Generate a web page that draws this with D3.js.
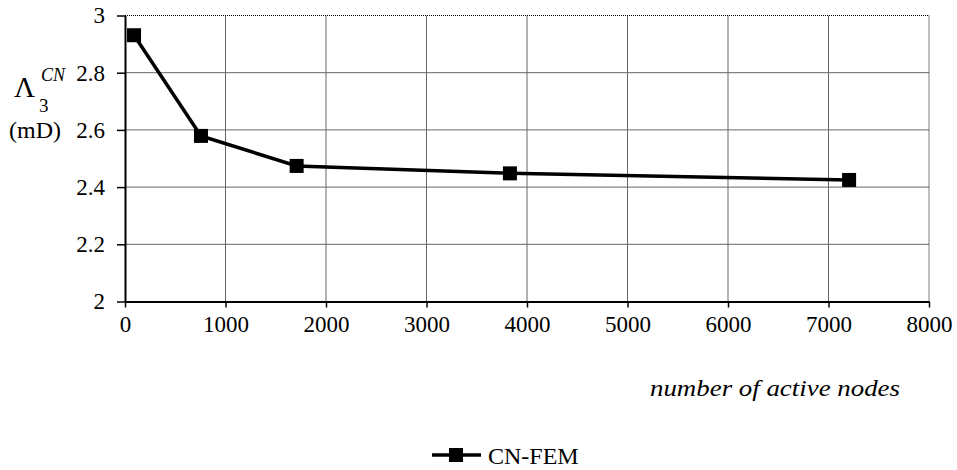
<!DOCTYPE html>
<html><head><meta charset="utf-8">
<script src="https://cdn.jsdelivr.net/npm/d3@7"></script>
<style>
svg text { font-family: 'Liberation Serif', 'Times New Roman', Times, serif !important; }
</style>
</head><body style="margin:0;background:#fff"><svg id="c" width="957" height="470"></svg>
<script>
const nodes = [90, 756, 1708, 3830, 7205];
const lambda = [2.931, 2.579, 2.474, 2.448, 2.425];
const xTicks = [0,1000,2000,3000,4000,5000,6000,7000,8000];
const yTicks = [2,2.2,2.4,2.6,2.8,3];
const seriesName = "CN-FEM";

const FF = "Liberation Serif";
const svg = d3.select("#c");
const L=125, R=929, T=15.5, B=301.5;
const x = d3.scaleLinear().domain([0,8000]).range([L,R]);
const y = d3.scaleLinear().domain([2,3]).range([B,T]);

// grid
svg.append("g").selectAll("line").data(xTicks.slice(1,-1)).join("line")
  .attr("x1",d=>x(d)).attr("x2",d=>x(d)).attr("y1",T).attr("y2",B)
  .attr("stroke","#666").attr("stroke-width",1);
svg.append("g").selectAll("line").data(yTicks.slice(1,-1)).join("line")
  .attr("x1",L).attr("x2",R).attr("y1",d=>y(d)).attr("y2",d=>y(d))
  .attr("stroke","#666").attr("stroke-width",1);
// top/right dotted border
svg.append("line").attr("x1",L).attr("x2",R).attr("y1",T).attr("y2",T).attr("stroke","#000").attr("stroke-dasharray","1,1");
svg.append("line").attr("x1",R).attr("x2",R).attr("y1",T).attr("y2",B).attr("stroke","#000").attr("stroke-dasharray","1,1");

// axes
const xa = svg.append("g").attr("transform",`translate(0,${B})`)
  .call(d3.axisBottom(x).tickValues(xTicks).tickFormat(d3.format("d")).tickSize(6).tickPadding(8).tickSizeOuter(0));
const ya = svg.append("g").attr("transform",`translate(${L},0)`)
  .call(d3.axisLeft(y).tickValues(yTicks).tickFormat(d=>String(d)).tickSize(8).tickPadding(12).tickSizeOuter(0));
[xa,ya].forEach(a=>{
  a.attr("font-family",FF).attr("font-size",23);
  a.select(".domain").attr("stroke","#000").attr("stroke-width",2);
  a.selectAll(".tick line").attr("stroke","#000").attr("stroke-width",1.5);
  a.selectAll("text").attr("fill","#000").attr("font-family",FF);});

// line
const pts = nodes.map((n,i)=>[n,lambda[i]]);
svg.append("path").datum(pts).attr("fill","none").attr("stroke","#000").attr("stroke-width",3.5)
  .attr("d",d3.line().x(d=>x(d[0])).y(d=>y(d[1])));
svg.append("g").selectAll("rect").data(pts).join("rect")
  .attr("x",d=>x(d[0])-7).attr("y",d=>y(d[1])-7).attr("width",14).attr("height",14).attr("fill","#000");

// y label
svg.append("text").attr("x",14).attr("y",97).attr("font-family",FF).attr("font-size",29).text("Λ");
svg.append("text").attr("x",39).attr("y",112).attr("font-family",FF).attr("font-size",19).text("3");
svg.append("text").attr("x",41).attr("y",81).attr("font-family",FF).attr("font-size",18).attr("font-style","italic").text("CN");
svg.append("text").attr("x",9).attr("y",138).attr("font-family",FF).attr("font-size",24).text("(mD)");

// x label
svg.append("text").attr("x",650).attr("y",396).attr("font-family",FF).attr("font-size",23)
  .attr("font-style","italic").attr("textLength",250).attr("lengthAdjust","spacingAndGlyphs").text("number of active nodes");

// legend
const lg = svg.append("g");
lg.append("line").attr("x1",432).attr("x2",481).attr("y1",455).attr("y2",455).attr("stroke","#000").attr("stroke-width",3.5);
lg.append("rect").attr("x",449).attr("y",448).attr("width",14).attr("height",14).attr("fill","#000");
lg.append("text").attr("x",488).attr("y",464).attr("font-family",FF).attr("font-size",24).text(seriesName);
</script></body></html>
